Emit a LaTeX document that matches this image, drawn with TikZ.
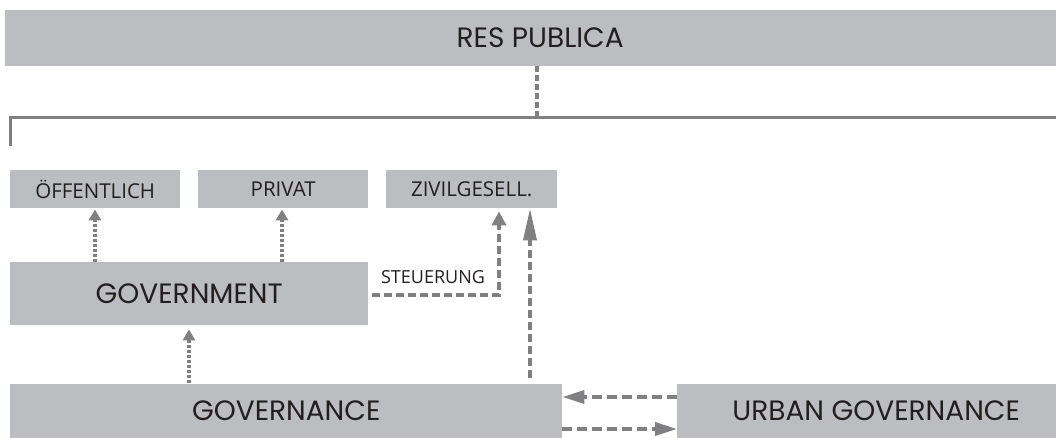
\documentclass[tikz,border=0pt]{standalone}
\usepackage{fontspec}
\usetikzlibrary{arrows.meta}
\newfontfamily\headfont{Poppins}
\newfontfamily\labelfont{Open Sans}
\definecolor{boxgray}{HTML}{BCBDC0}
\definecolor{linegray}{HTML}{808083}
\definecolor{inkdark}{HTML}{231F20}
\begin{document}
\begin{tikzpicture}[x=1pt,y=-1pt,
  panel/.style={fill=boxgray, draw=none, inner sep=0pt, text=inkdark, anchor=north west},
  bigpanel/.style={panel, font=\headfont\fontsize{28}{32}\selectfont},
  smallpanel/.style={panel, font=\labelfont\fontsize{20.5}{24}\selectfont, minimum height=38pt},
  conn/.style={draw=linegray, line cap=butt},
  railline/.style={conn, line width=3pt},
  topdash/.style={conn, line width=4pt, dash pattern=on 6pt off 3pt},
  finedash/.style={conn, line width=3.3pt, dash pattern=on 3pt off 2pt,
    -{Triangle[length=11pt,width=12pt,fill=linegray]}},
  longdash/.style={conn, line width=3.5pt, dash pattern=on 8pt off 4pt},
  flatdash/.style={conn, line width=3.5pt, dash pattern=on 10pt off 5pt,
    -{Triangle[length=22pt,width=13pt,fill=linegray]}},
]
\useasboundingbox (0,0) rectangle (1056,438);

% boxes
\node[bigpanel, minimum width=1070pt, minimum height=56pt] (res) at (5,10) {RES PUBLICA};
\node[smallpanel, minimum width=170pt] (oeff) at (10,170) {ÖFFENTLICH};
\node[smallpanel, minimum width=170pt] (priv) at (198,170) {PRIVAT};
\node[smallpanel, minimum width=171pt] (zivil) at (386,170) {ZIVILGESELL.};
\node[bigpanel, minimum width=358pt, minimum height=63pt] (govt) at (10,262) {GOVERNMENT};
\node[bigpanel, minimum width=552pt, minimum height=54pt] (gov) at (10,384) {GOVERNANCE};
\node[bigpanel, minimum width=398pt, minimum height=54pt] (urban) at (677,384) {URBAN GOVERNANCE};

% junction under RES PUBLICA
\coordinate (hub) at (537,118);
\coordinate (tick) at (10,146);
\coordinate (railend) at (1060,118);
\draw[topdash] (hub |- res.south) -- (hub);
\draw[railline] (tick) -- (tick |- hub) -- (railend);

% GOVERNMENT to the sectors
\coordinate (xo) at (95,0);
\coordinate (xp) at (282,0);
\draw[finedash] (xo |- govt.north) -- ([yshift=-1pt]xo |- oeff.south);
\draw[finedash] (xp |- govt.north) -- ([yshift=-1pt]xp |- priv.south);

% GOVERNANCE to GOVERNMENT
\coordinate (xg) at (189,0);
\draw[finedash, shorten <=1pt] (xg |- gov.north) -- ([yshift=-4pt]xg |- govt.south);

% Steuerung
\coordinate (steuer) at (499,295);
\draw[longdash, -{Triangle[length=14pt,width=14pt,fill=linegray]}]
  ([xshift=4pt]govt.east |- steuer) -- (steuer) -- ([yshift=-3pt]steuer |- zivil.south);
\node[font=\labelfont\fontsize{18}{20}\selectfont, text=inkdark, inner sep=0pt] (steuerlbl) at (433,277) {STEUERUNG};

% GOVERNANCE to ZIVILGESELL.
\coordinate (xz) at (530,0);
\draw[longdash, shorten <=6pt, -{Triangle[length=32pt,width=13pt,fill=linegray]}]
  (xz |- gov.north) -- (xz |- zivil.south);

% GOVERNANCE and URBAN GOVERNANCE
\coordinate (upper) at (0,397);
\coordinate (lower) at (0,429);
\draw[flatdash] (urban.west |- upper) -- (gov.east |- upper);
\draw[flatdash] (gov.east |- lower) -- (urban.west |- lower);
\end{tikzpicture}
\end{document}
